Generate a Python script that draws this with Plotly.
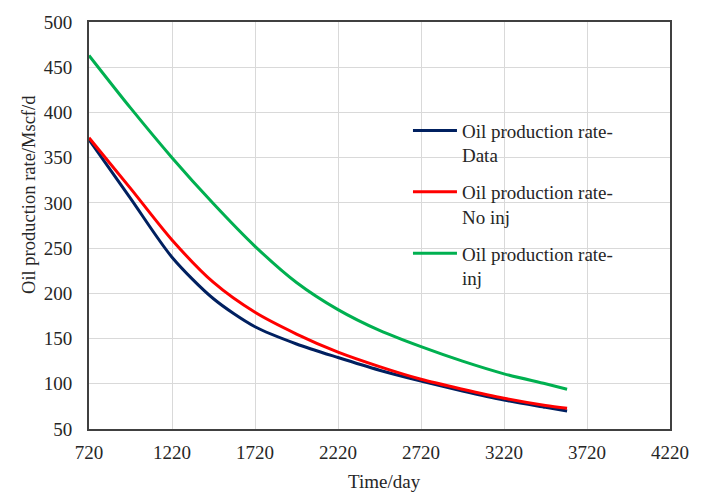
import plotly.graph_objects as go

# Data
t_data = [720, 970, 1220, 1470, 1720, 1970, 2220, 2470, 2720, 2970, 3220, 3470, 3600]
q_data = [370, 305, 240, 194, 163, 144, 129, 115, 103, 92, 82, 74, 70]

t_noinj = [720, 970, 1220, 1470, 1720, 1970, 2220, 2470, 2720, 2970, 3220, 3470, 3600]
q_noinj = [372, 316, 259, 212, 179, 155, 135, 119, 105, 94, 84, 76, 73]

t_inj = [720, 970, 1220, 1470, 1720, 1970, 2220, 2470, 2720, 2970, 3220, 3470, 3600]
q_inj = [463, 405, 350, 299, 252, 212, 182, 159, 141, 125, 111, 100, 94]

x_ticks = [720, 1220, 1720, 2220, 2720, 3220, 3720, 4220]
y_ticks = [50, 100, 150, 200, 250, 300, 350, 400, 450, 500]

FONT = "Liberation Serif, Times New Roman, serif"
TXT = "#262626"

fig = go.Figure()
series = [
    (t_data, q_data, "#002060", "Oil production rate-<br>Data"),
    (t_noinj, q_noinj, "#ff0000", "Oil production rate-<br>No inj"),
    (t_inj, q_inj, "#00b050", "Oil production rate-<br>inj"),
]
for i, (x, y, c, name) in enumerate(series):
    fig.add_trace(go.Scatter(
        x=x, y=y, mode="lines", name=name, legendgroup=f"g{i}",
        line=dict(color=c, width=3, shape="spline", smoothing=0.8),
    ))

fig.update_layout(
    width=701, height=492,
    margin=dict(l=89, r=21, t=17, b=63),
    paper_bgcolor="white", plot_bgcolor="white",
    font=dict(family=FONT, size=19, color=TXT),
    showlegend=True,
    legend=dict(
        x=0.549, y=0.78, xanchor="left", yanchor="top",
        bgcolor="rgba(0,0,0,0)", valign="top", itemwidth=44,
        tracegroupgap=9, font=dict(family=FONT, size=19, color=TXT),
    ),
    xaxis=dict(
        range=[720, 4220], tickvals=x_ticks, ticktext=[str(v) for v in x_ticks],
        showgrid=True, gridcolor="#d9d9d9", gridwidth=1,
        showline=True, linecolor="#404040", linewidth=2, mirror=True,
        zeroline=False, ticks="", ticklen=0, ticklabelstandoff=5,
    ),
    yaxis=dict(
        range=[50, 500], tickvals=y_ticks, ticktext=[str(v) for v in y_ticks],
        showgrid=True, gridcolor="#d9d9d9", gridwidth=1,
        showline=True, linecolor="#404040", linewidth=2, mirror=True,
        zeroline=False, ticks="", ticklen=0, ticklabelstandoff=11,
    ),
    annotations=[
        dict(text="Time/day", xref="paper", yref="paper",
             x=(390 - 89) / 591, y=-(482 - 429) / 412,
             xanchor="center", yanchor="middle", showarrow=False,
             font=dict(family=FONT, size=19, color=TXT)),
        dict(text="Oil production rate/Mscf/d", xref="paper", yref="paper",
             x=-(89 - 28) / 591, y=1 - (192 - 17) / 412, textangle=-90,
             xanchor="center", yanchor="middle", showarrow=False,
             font=dict(family=FONT, size=18.5, color=TXT)),
    ],
)

fig.write_html("out.html")
